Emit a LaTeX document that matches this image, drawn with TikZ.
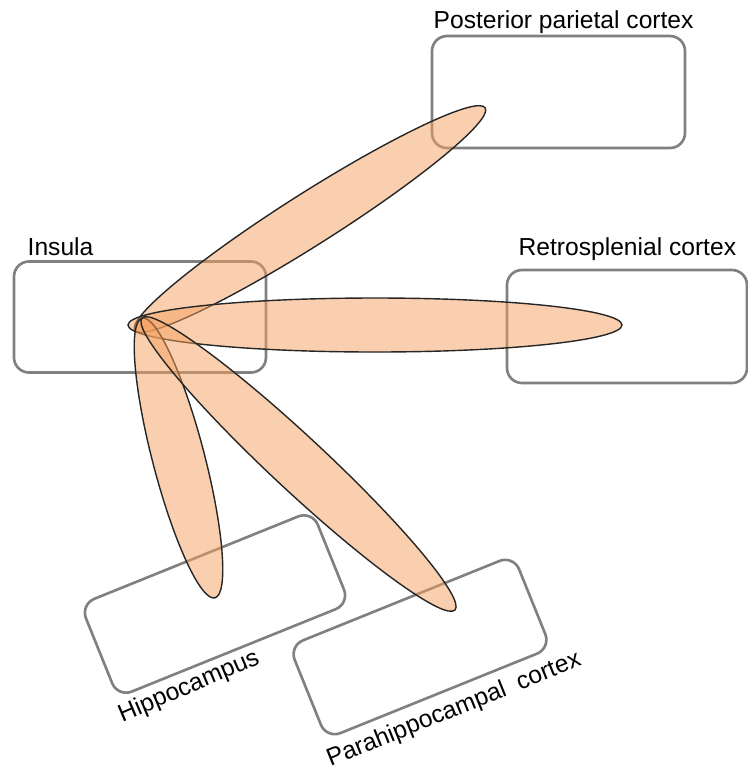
\documentclass[tikz,border=0pt]{standalone}
\usepackage{fontspec}
\setmainfont{Liberation Sans}
\usepackage{tikz}

\definecolor{petalorange}{RGB}{245,160,95}
\definecolor{boxgray}{RGB}{128,128,128}

\begin{document}
\begin{tikzpicture}[
  area/.style = {draw=boxgray, line width=0.75pt, rounded corners=0.15cm, inner sep=0pt},
  areaname/.style = {font=\fontsize{7}{8.4}\selectfont, inner sep=0pt},
  petal/.style = {fill=petalorange, fill opacity=0.5, draw=black!85, line width=0.4pt}
]
\useasboundingbox (0,0) rectangle (7.48,-7.67);

% regions
\node[area, minimum width=2.52cm, minimum height=1.11cm] (insula) at (1.40,-3.17) {};
\node[area, minimum width=2.53cm, minimum height=1.12cm] (ppc) at (5.585,-0.92) {};
\node[area, minimum width=2.40cm, minimum height=1.13cm] (rsc) at (6.27,-3.265) {};
\node[area, rotate=22, minimum width=2.50cm, minimum height=1.00cm] (hippo) at (2.15,-6.04) {};
\node[area, rotate=22, minimum width=2.42cm, minimum height=1.00cm] (parahippo) at (4.20,-6.47) {};

% labels
\node[areaname, anchor=base west] (insulaname) at (0.27,-2.55) {Insula};
\node[areaname, anchor=base west] (ppcname) at (4.33,-0.28) {Posterior parietal cortex};
\node[areaname, anchor=base west] (rscname) at (5.18,-2.55) {Retrosplenial cortex};
\node[areaname, rotate=23] (hipponame) at (1.89,-6.87) {Hippocampus};
\node[areaname, rotate=22] (parahipponame) at (4.54,-7.10) {Parahippocampal\hspace{0.25em} cortex};

% connections
\draw[petal, shift={(3.10,-2.19)}, rotate=32.4] (0,0) ellipse (2.075 and 0.26);
\draw[petal, shift={(3.75,-3.25)}] (0,0) ellipse (2.47 and 0.27);
\draw[petal, shift={(1.785,-4.58)}, rotate=-75.4] (0,0) ellipse (1.445 and 0.26);
\draw[petal, shift={(2.985,-4.64)}, rotate=-43.0] (0,0) ellipse (2.14 and 0.27);
\end{tikzpicture}
\end{document}
